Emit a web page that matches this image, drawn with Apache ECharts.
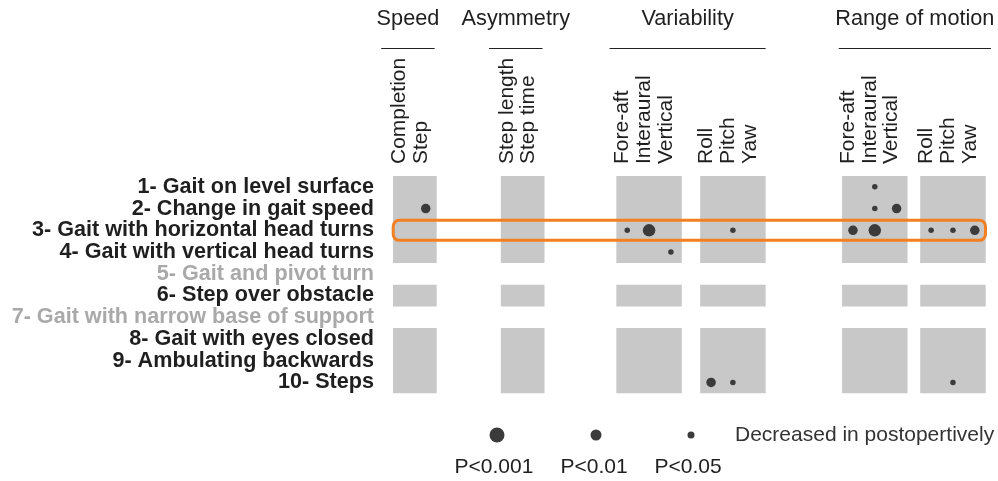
<!DOCTYPE html>
<html><head><meta charset="utf-8">
<script src="https://cdn.jsdelivr.net/npm/echarts@6/dist/echarts.min.js"></script>
<style>html,body{margin:0;padding:0;background:#fff}#c{width:998px;height:481px}</style>
</head><body><div id="c"></div>
<script>
// ---------- data ----------
const tasks = [
  '1- Gait on level surface',
  '2- Change in gait speed',
  '3- Gait with horizontal head turns',
  '4- Gait with vertical head turns',
  '5- Gait and pivot turn',
  '6- Step over obstacle',
  '7- Gait with narrow base of support',
  '8- Gait with eyes closed',
  '9- Ambulating backwards',
  '10- Steps'
];
const excludedTasks = [5, 7];
const groups = ['Speed', 'Asymmetry', 'Variability', 'Range of motion'];
const columns = ['Completion', 'Step', 'Step length', 'Step time',
  'Fore-aft', 'Interaural', 'Vertical', 'Roll', 'Pitch', 'Yaw',
  'Fore-aft', 'Interaural', 'Vertical', 'Roll', 'Pitch', 'Yaw'];
const columnGroup = [0, 0, 1, 1, 2, 2, 2, 2, 2, 2, 3, 3, 3, 3, 3, 3];
const columnBlock = [0, 0, 1, 1, 2, 2, 2, 3, 3, 3, 4, 4, 4, 5, 5, 5];
const pLevels = ['P<0.001', 'P<0.01', 'P<0.05'];
const legendText = 'Decreased in postopertively';
// findings: [task number, column index, p-level index]
const findings = [
  [1, 11, 2],
  [2, 1, 1], [2, 11, 2], [2, 12, 1],
  [3, 4, 2], [3, 5, 0], [3, 8, 2], [3, 10, 1], [3, 11, 0], [3, 13, 2], [3, 14, 2], [3, 15, 1],
  [4, 6, 2],
  [10, 7, 1], [10, 8, 2], [10, 14, 2]
];
const highlightedTask = 3;

// ---------- layout / style ----------
const FONT = '"Liberation Sans", Arial, Helvetica, sans-serif';
const blockGaps = [2.94, 3.29, 0.84, 3.5, 0.58];
const groupLinePad = [[-1.04, 0.41], [-1.04, 0.41], [-0.81, 0.5], [-0.65, 0.74]];
const dotSizes = [12.5, 9.5, 5.5];
const legendDotSizes = [15, 11, 7];
const DOT = '#3b3b3b';
const BLOCK = '#c8c8c8';
const TEXT = '#1f1f1f';

const colX = [];
let cx = 0;
columns.forEach((c, i) => {
  if (i > 0) { cx += 1; if (columnBlock[i] !== columnBlock[i - 1]) cx += blockGaps[columnBlock[i] - 1]; }
  colX.push(cx);
});
const xMin = -0.5, xMax = colX[colX.length - 1] + 0.5;

// blocks: each column block x each run of non-excluded tasks
const runs = [];
let start = null;
tasks.forEach((t, i) => {
  const ok = !excludedTasks.includes(i + 1);
  if (ok && start === null) start = i;
  if ((!ok || i === tasks.length - 1) && start !== null) { runs.push([start, ok ? i : i - 1]); start = null; }
});
const nBlocks = Math.max(...columnBlock) + 1;
const blockData = [];
for (let b = 0; b < nBlocks; b++) {
  const idx = columnBlock.map((v, i) => v === b ? i : -1).filter(i => i >= 0);
  runs.forEach(r => blockData.push([colX[idx[0]] - 0.5, colX[idx[idx.length - 1]] + 0.5, r[0], r[1]]));
}

const groupData = groups.map((g, gi) => {
  const idx = columnGroup.map((v, i) => v === gi ? i : -1).filter(i => i >= 0);
  return [colX[idx[0]] + groupLinePad[gi][0], colX[idx[idx.length - 1]] + groupLinePad[gi][1], gi];
});

const chart = echarts.init(document.getElementById('c'), null, { renderer: 'canvas' });
chart.setOption({
  animation: false,
  backgroundColor: '#ffffff',
  grid: { left: 393, right: 12.3, top: 176, bottom: 87.7 },
  xAxis: { type: 'value', min: xMin, max: xMax, show: false },
  yAxis: {
    type: 'category', inverse: true, data: tasks,
    axisLine: { show: false }, axisTick: { show: false }, splitLine: { show: false },
    axisLabel: {
      margin: 19, interval: 0, hideOverlap: false, showMinLabel: true, showMaxLabel: true,
      formatter: (v, i) => excludedTasks.includes(i + 1) ? '{g|' + v + '}' : '{b|' + v + '}',
      rich: {
        b: { fontSize: 21.6, fontWeight: 'bold', color: TEXT, fontFamily: FONT },
        g: { fontSize: 21.6, fontWeight: 'bold', color: '#a9a9a9', fontFamily: FONT }
      }
    }
  },
  series: [
    {
      type: 'custom', name: 'blocks', data: blockData, z: 1, silent: true,
      renderItem: (params, api) => {
        const p0 = api.coord([api.value(0), api.value(2)]);
        const p1 = api.coord([api.value(1), api.value(3)]);
        const band = api.size([0, 1])[1];
        return { type: 'rect', shape: { x: p0[0], y: p0[1] - band / 2, width: p1[0] - p0[0], height: p1[1] - p0[1] + band },
          style: { fill: BLOCK } };
      }
    },
    {
      type: 'custom', name: 'highlight', data: [[xMin, xMax, highlightedTask - 1]], z: 3, silent: true,
      renderItem: (params, api) => {
        const p0 = api.coord([api.value(0), api.value(2)]);
        const p1 = api.coord([api.value(1), api.value(2)]);
        return { type: 'rect', shape: { x: p0[0] + 0.2, y: p0[1] - 10, width: p1[0] - p0[0] - 0.4, height: 20, r: 6 },
          style: { fill: 'none', stroke: '#f28022', lineWidth: 3 } };
      }
    },
    {
      type: 'custom', name: 'columnLabels', data: columns.map((c, i) => [colX[i], i]), z: 2, silent: true,
      renderItem: (params, api) => {
        const p = api.coord([api.value(0), 0]);
        return { type: 'text', x: p[0] - 5, y: params.coordSys.y - 12, rotation: Math.PI / 2,
          style: { text: columns[api.value(1)], fontSize: 21, fontFamily: FONT, fill: TEXT, align: 'left', verticalAlign: 'middle' } };
      }
    },
    {
      type: 'custom', name: 'groups', data: groupData, z: 2, silent: true,
      renderItem: (params, api) => {
        const a = api.coord([api.value(0), 0]);
        const b = api.coord([api.value(1), 0]);
        const top = params.coordSys.y;
        return { type: 'group', children: [
          { type: 'line', shape: { x1: a[0], y1: top - 127.5, x2: b[0], y2: top - 127.5 }, style: { stroke: '#222222', lineWidth: 1 } },
          { type: 'text', x: (a[0] + b[0]) / 2, y: top - 157,
            style: { text: groups[api.value(2)], fontSize: 21.7, fontFamily: FONT, fill: TEXT, align: 'center', verticalAlign: 'middle' } }
        ] };
      }
    },
    {
      type: 'scatter', name: 'findings', z: 4, silent: true,
      data: findings.map(f => [colX[f[1]], f[0] - 1, f[2]]),
      symbol: 'circle',
      symbolSize: v => dotSizes[v[2]],
      itemStyle: { color: DOT, opacity: 1 }
    }
  ],
  graphic: [
    ...pLevels.map((p, i) => ({ type: 'circle', x: [497, 596, 691][i], y: 435, shape: { r: legendDotSizes[i] / 2 }, style: { fill: DOT } })),
    ...pLevels.map((p, i) => ({ type: 'text', x: [494, 594, 688][i], y: 467,
      style: { text: p, fontSize: 21, fontFamily: FONT, fill: TEXT, align: 'center', verticalAlign: 'middle' } })),
    { type: 'text', x: 735, y: 435, style: { text: legendText, fontSize: 21, fontFamily: FONT, fill: '#333333', align: 'left', verticalAlign: 'middle' } }
  ]
});
</script></body></html>
